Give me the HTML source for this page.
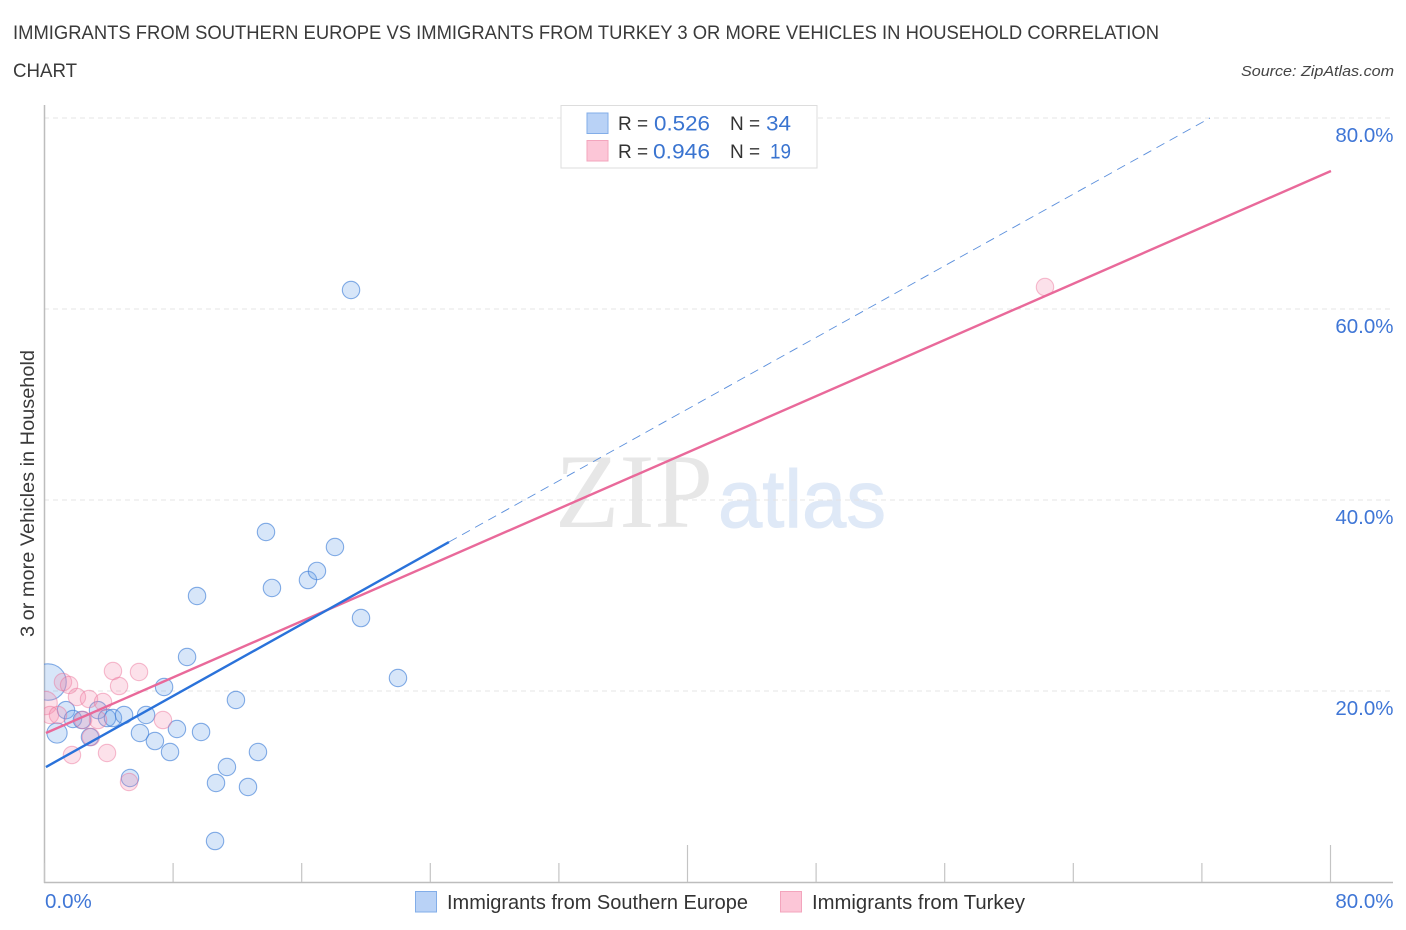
<!DOCTYPE html>
<html lang="en">
<head>
<meta charset="utf-8">
<title>Immigrants from Southern Europe vs Immigrants from Turkey correlation chart</title>
<style>
html,body{margin:0;padding:0;background:#fff;width:1406px;height:930px;overflow:hidden}
svg{display:block}
text{font-family:"Liberation Sans",sans-serif}
</style>
</head>
<body>
<svg id="chart" width="1406" height="930" viewBox="0 0 1406 930" xmlns="http://www.w3.org/2000/svg">
  <defs>
    <clipPath id="plot-clip"><rect x="44" y="100" width="1350" height="783"/></clipPath>
  </defs>
  <rect x="0" y="0" width="1406" height="930" fill="#ffffff"/>

  <text x="13" y="39" font-size="19.5" fill="#3a3a3a" textLength="1146" lengthAdjust="spacingAndGlyphs">IMMIGRANTS FROM SOUTHERN EUROPE VS IMMIGRANTS FROM TURKEY 3 OR MORE VEHICLES IN HOUSEHOLD CORRELATION</text>
  <text x="13" y="77" font-size="19.5" fill="#3a3a3a" textLength="64" lengthAdjust="spacingAndGlyphs">CHART</text>
  <text x="1241" y="76" font-size="15" font-style="italic" fill="#444" textLength="153" lengthAdjust="spacingAndGlyphs">Source: ZipAtlas.com</text>

  <g>
    <text x="555" y="527" font-size="106" fill="#e7e7e7" textLength="158" lengthAdjust="spacingAndGlyphs" style="font-family:'Liberation Serif',serif">ZIP</text>
    <text x="718" y="527" font-size="82" fill="#dfe9f7" stroke="#dfe9f7" stroke-width="1" textLength="168" lengthAdjust="spacingAndGlyphs">atlas</text>
  </g>

  <g id="grid"></g>
  <g id="axes"></g>
  <g id="marks-blue" clip-path="url(#plot-clip)"></g>
  <g id="marks-pink" clip-path="url(#plot-clip)"></g>
  <g id="trends"></g>

  <text transform="translate(34,637) rotate(-90)" x="0" y="0" font-size="19.5" fill="#3a3a3a" textLength="287" lengthAdjust="spacingAndGlyphs">3 or more Vehicles in Household</text>

  <g>
    <rect x="561" y="105.500" width="256" height="62.500" fill="#fff" stroke="#dddddd" stroke-width="1"/>
    <rect x="587" y="113" width="21" height="20.500" fill="#b9d2f6" stroke="#82ade8" stroke-width="1"/>
    <rect x="587" y="140.500" width="21" height="20.500" fill="#fcc6d7" stroke="#f3a5bd" stroke-width="1"/>
    <text x="618" y="130" font-size="19" fill="#333">R =</text>
    <text x="654" y="130.500" font-size="21" fill="#3a74d0" textLength="56" lengthAdjust="spacingAndGlyphs">0.526</text>
    <text x="730" y="130" font-size="19" fill="#333">N =</text>
    <text x="766" y="130.500" font-size="21" fill="#3a74d0" textLength="25" lengthAdjust="spacingAndGlyphs">34</text>
    <text x="618" y="158" font-size="19" fill="#333">R =</text>
    <text x="653" y="158.500" font-size="21" fill="#3a74d0" textLength="57" lengthAdjust="spacingAndGlyphs">0.946</text>
    <text x="730" y="158" font-size="19" fill="#333">N =</text>
    <text x="770" y="158.500" font-size="21" fill="#3a74d0" textLength="21" lengthAdjust="spacingAndGlyphs">19</text>
  </g>

  <g>
    <rect x="415.500" y="891.500" width="21" height="20.500" fill="#b9d2f6" stroke="#82ade8" stroke-width="1"/>
    <text x="447" y="909" font-size="20" fill="#333" textLength="301" lengthAdjust="spacingAndGlyphs">Immigrants from Southern Europe</text>
    <rect x="780.500" y="891.500" width="21" height="20.500" fill="#fcc6d7" stroke="#f3a5bd" stroke-width="1"/>
    <text x="812" y="909" font-size="20" fill="#333" textLength="213" lengthAdjust="spacingAndGlyphs">Immigrants from Turkey</text>
  </g>
</svg>

<script>
// ---- chart data (percent values) ----
const blueX = [0.25,0.81,1.37,1.8,2.36,2.86,3.36,3.92,4.29,4.98,5.35,5.97,6.35,6.9,7.47,7.84,8.27,8.9,9.52,9.77,10.64,10.7,11.38,11.94,12.69,13.31,13.81,14.18,16.42,16.98,18.1,19.1,19.72,22.02];
const blueY = [20.94,15.6,18.0,17.07,16.96,15.18,18.0,17.17,17.17,17.49,10.89,15.6,17.49,14.76,20.42,13.61,16.02,23.56,29.95,15.71,4.29,10.37,12.04,19.06,9.95,13.61,36.65,30.79,31.62,32.57,35.08,61.99,27.64,21.36];
const blueWeight = [4.4,1.35,1,1,1,1,1,1,1,1,1,1,1,1,1,1,1,1,1,1,1,1,1,1,1,1,1,1,1,1,1,1,1,1];
const pinkX = [0.1,0.37,0.87,1.18,1.56,2.05,2.43,2.8,2.92,3.36,3.67,1.74,3.92,4.29,4.67,5.91,7.4,5.29,62.27];
const pinkY = [18.74,17.49,17.49,20.94,20.63,19.37,16.96,19.16,15.18,16.96,18.85,13.3,13.51,22.09,20.52,21.99,16.96,10.47,62.3];
const pinkWeight = [1.8,1,1,1,1,1,1,1,1,1,1,1,1,1,1,1,1,1,1];
const blueTrendX = [0.12,25.19];
const blueTrendY = [12.04,35.6];
const blueDashX = [25.19,72.53];
const blueDashY = [35.6,80];
const pinkTrendX = [0.12,80.06];
const pinkTrendY = [15.6,74.45];
const yTicks = [20,40,60,80];
const yTickLabels = ["20.0%","40.0%","60.0%","80.0%"];
const xTicks = [0,8,16,24,32,40,48,56,64,72,80];
const xMajorTicks = [40,80];
const xEndTicks = [0,80];
const xEndLabels = ["0.0%","80.0%"];

// ---- axis functions ----
const xScale = v => 44 + v * 16.075;
const yScale = v => 882 - v * 9.55;
const NS = 'http://www.w3.org/2000/svg';
const grid = document.getElementById('grid');
const axes = document.getElementById('axes');
const marksBlue = document.getElementById('marks-blue');
const marksPink = document.getElementById('marks-pink');
const trends = document.getElementById('trends');

function make(tag, props, parent){
  const el = document.createElementNS(NS, tag);
  for (const k in props) el.setAttribute(k, props[k]);
  parent.appendChild(el);
  return el;
}

yTicks.forEach((t, i) => {
  const line = make('line', {x1:44, x2:1393, y1:yScale(t), y2:yScale(t), stroke:'#e4e4e4', 'stroke-width':1, 'stroke-dasharray':'5 4'}, grid);
  
  
  const label = make('text', {x:1393.5, y:yScale(t)+24, 'text-anchor':'end', 'font-size':20.5, fill:'#3f76d6'}, axes);
  label.textContent = yTickLabels[i];
  
  
});

const yAxis = make('line', {x1:44.5, x2:44.5, y1:105, y2:883, stroke:'#bdbdbd', 'stroke-width':1.5}, axes);


const xAxis = make('line', {x1:44, x2:1393, y1:882.5, y2:882.5, stroke:'#bdbdbd', 'stroke-width':1.5}, axes);



xTicks.forEach(t => {
  const top = xMajorTicks.includes(t) ? 845 : 863;
  const tick = make('line', {x1:xScale(t)+0.5, x2:xScale(t)+0.5, y1:top, y2:882, stroke:'#c4c4c4', 'stroke-width':1.2}, axes);
  
  
});

xEndTicks.forEach((t, i) => {
  const label = make('text', {x: i === 0 ? xScale(t)+1 : 1393.5, y:908, 'text-anchor': i === 0 ? 'start' : 'end', 'font-size':20.5, fill:'#3f76d6'}, axes);
  label.textContent = xEndLabels[i];
  
  
});

const baseRadius = 8.7;
blueX.forEach((x, i) => {
  const dot = make('circle', {cx:xScale(x), cy:yScale(blueY[i]), r:baseRadius*Math.sqrt(blueWeight[i]), fill:'rgba(110,165,235,0.28)', stroke:'rgba(60,125,215,0.62)', 'stroke-width':1.1}, marksBlue);
  
  
});
pinkX.forEach((x, i) => {
  const dot = make('circle', {cx:xScale(x), cy:yScale(pinkY[i]), r:baseRadius*Math.sqrt(pinkWeight[i]), fill:'rgba(245,140,175,0.26)', stroke:'rgba(235,110,150,0.45)', 'stroke-width':1.1}, marksPink);
  
  
});

const dash = make('line', {x1:xScale(blueDashX[0]), y1:yScale(blueDashY[0]), x2:xScale(blueDashX[1]), y2:yScale(blueDashY[1]), stroke:'#5b8fdc', 'stroke-width':0.9, 'stroke-dasharray':'9 6'}, trends);


const pinkLine = make('line', {x1:xScale(pinkTrendX[0]), y1:yScale(pinkTrendY[0]), x2:xScale(pinkTrendX[1]), y2:yScale(pinkTrendY[1]), stroke:'#e9699a', 'stroke-width':2.4}, trends);


const blueLine = make('line', {x1:xScale(blueTrendX[0]), y1:yScale(blueTrendY[0]), x2:xScale(blueTrendX[1]), y2:yScale(blueTrendY[1]), stroke:'#2a72da', 'stroke-width':2.4}, trends);


</script>
</body>
</html>
